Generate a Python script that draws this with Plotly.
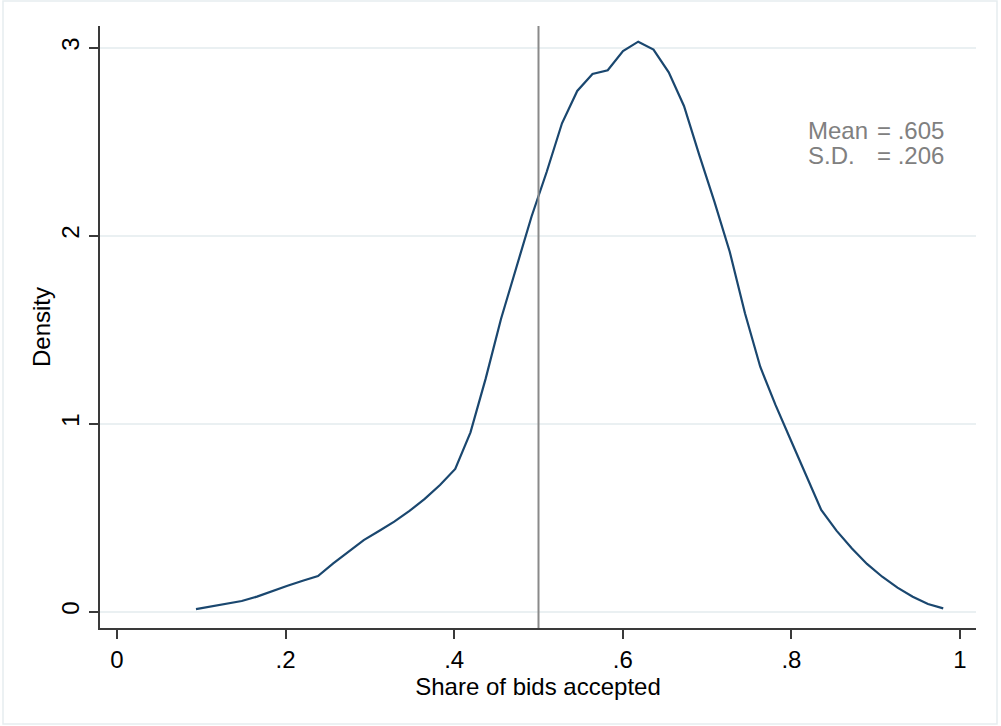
import plotly.graph_objects as go

# Kernel density estimate (50 evaluation points)
x_start = 0.0937
x_step = 0.01809
density = [0.014, 0.027, 0.041, 0.057, 0.080, 0.110, 0.138, 0.165, 0.190, 0.257,
           0.320, 0.381, 0.429, 0.479, 0.536, 0.600, 0.674, 0.759, 0.954, 1.241,
           1.557, 1.835, 2.101, 2.340, 2.598, 2.770, 2.860, 2.880, 2.982, 3.032,
           2.990, 2.869, 2.690, 2.430, 2.180, 1.915, 1.587, 1.303, 1.100, 0.913,
           0.722, 0.541, 0.431, 0.337, 0.254, 0.186, 0.128, 0.080, 0.041, 0.018]
share = [x_start + i * x_step for i in range(len(density))]

ref_line = 0.5
x_ticks = [0, 0.2, 0.4, 0.6, 0.8, 1]
x_tick_labels = ["0", ".2", ".4", ".6", ".8", "1"]
y_ticks = [0, 1, 2, 3]
stats_labels = ["Mean", "S.D."]
stats_values = ["= .605", "= .206"]

FONT = "Liberation Sans, Arial, Helvetica, sans-serif"
FS = 24

fig = go.Figure()
fig.add_trace(go.Scatter(x=share, y=density, mode="lines",
                         line=dict(color="#1a476f", width=2.2), hoverinfo="skip",
                         showlegend=False))

fig.add_shape(type="line", xref="x", yref="paper", x0=ref_line, x1=ref_line, y0=0, y1=1,
              line=dict(color="#8a8a8a", width=2))

# outer frame
fig.add_shape(type="rect", xref="paper", yref="paper",
              x0=(3 - 100) / 876, x1=(997 - 100) / 876,
              y0=(628 - 724) / 602, y1=(628 - 1) / 602,
              line=dict(color="#e6edf0", width=1.5), fillcolor="rgba(0,0,0,0)", layer="below")

for i, (lab, val) in enumerate(zip(stats_labels, stats_values)):
    yv = 2.56 - i * 0.135
    fig.add_annotation(x=(806 - 117) / 843, y=yv, xref="x", yref="y", text=lab,
                       showarrow=False, xanchor="left", yanchor="middle",
                       font=dict(family=FONT, size=FS, color="#808080"))
    fig.add_annotation(x=(875 - 117) / 843, y=yv, xref="x", yref="y", text=val,
                       showarrow=False, xanchor="left", yanchor="middle",
                       font=dict(family=FONT, size=FS, color="#808080"))

fig.update_layout(
    width=1001, height=726,
    margin=dict(l=100, r=25, t=26, b=98),
    paper_bgcolor="white", plot_bgcolor="white",
    font=dict(family=FONT, size=FS, color="black"),
    xaxis=dict(range=[(100 - 117) / 843, (976 - 117) / 843],
               tickvals=x_ticks, ticktext=x_tick_labels,
               showgrid=False, zeroline=False,
               showline=True, linecolor="#3a3a3a", linewidth=2,
               ticks="outside", ticklen=9, tickwidth=1.5, tickcolor="#3a3a3a",
               tickfont=dict(size=FS),
               title=dict(text="Share of bids accepted", font=dict(size=FS), standoff=2)),
    yaxis=dict(range=[(611.7 - 628) / 188, (611.7 - 26) / 188],
               tickvals=y_ticks, tickangle=-90,
               showgrid=True, gridcolor="#eaf0f2", gridwidth=2, zeroline=False,
               showline=True, linecolor="#3a3a3a", linewidth=2,
               ticks="outside", ticklen=9, tickwidth=1.5, tickcolor="#3a3a3a",
               tickfont=dict(size=FS),
               title=dict(text="Density", font=dict(size=FS), standoff=0)),
)

fig.write_html("out.html")
